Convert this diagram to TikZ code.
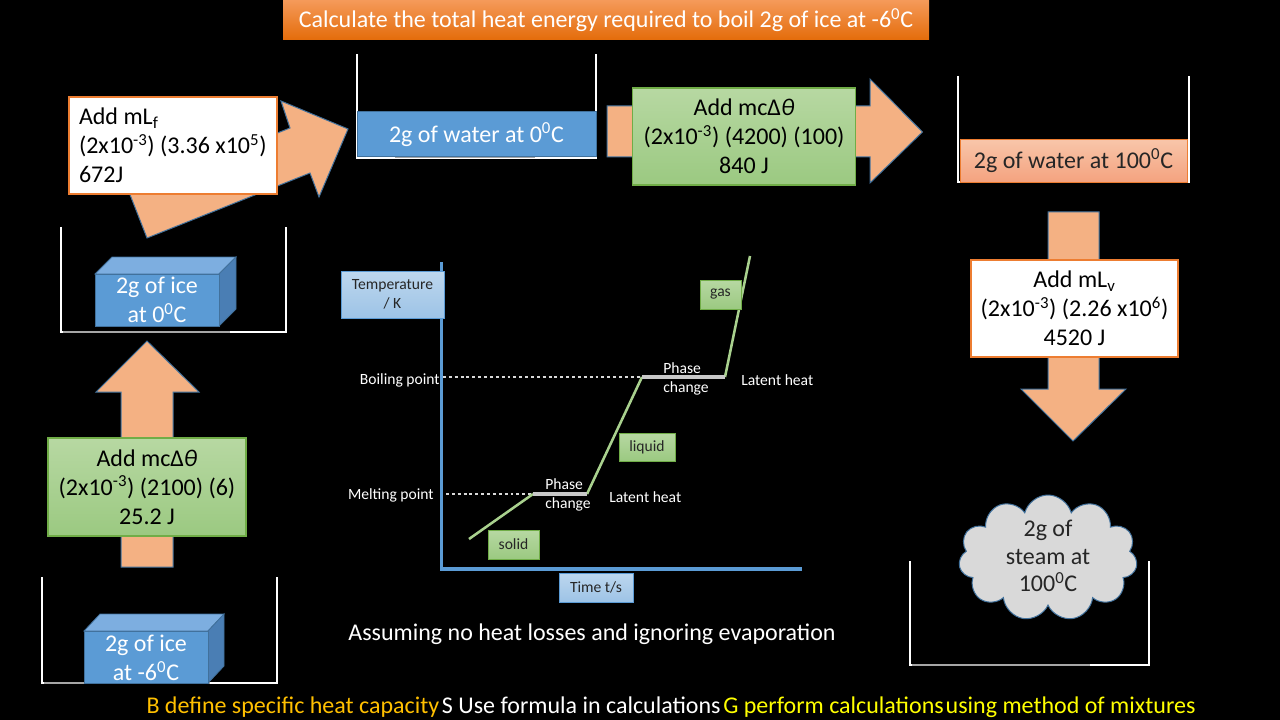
\documentclass[tikz,border=0pt]{standalone}
\usepackage{fontspec}
\setmainfont{Carlito}
\usetikzlibrary{shapes.symbols}
\definecolor{arrowfill}{HTML}{F4B183}
\definecolor{arrowedge}{HTML}{41719C}
\definecolor{boxorange}{HTML}{ED7D31}
\definecolor{greentop}{HTML}{B7D8A2}
\definecolor{greenbot}{HTML}{9BC981}
\definecolor{greenedge}{HTML}{70AD47}
\definecolor{bluefill}{HTML}{5B9BD5}
\definecolor{blueedge}{HTML}{41719C}
\definecolor{bluetopf}{HTML}{7DAEE0}
\definecolor{bluesidef}{HTML}{4A7EB4}
\definecolor{lbtop}{HTML}{BDD7EE}
\definecolor{lbbot}{HTML}{9DC3E6}
\definecolor{salmtop}{HTML}{F8C6AA}
\definecolor{salmbot}{HTML}{F4A27E}
\definecolor{titletop}{HTML}{F59A5A}
\definecolor{titlebot}{HTML}{E46C0A}
\definecolor{curvegreen}{HTML}{A9D18E}
\definecolor{flatgray}{HTML}{C8C8C8}
\definecolor{bgold}{HTML}{FFC000}
\definecolor{gyellow}{HTML}{FFFF00}
\newcommand\bxfont{\fontsize{18}{21.8}\selectfont}
\newcommand\smfont{\fontsize{11.7}{14.25}\selectfont}
\newcommand\bigfont{\fontsize{18}{21}\selectfont}
\newcommand\sps[1]{\textsuperscript{#1}}
\begin{document}
\begin{tikzpicture}[x=0.75pt,y=-0.75pt,
  arrowshape/.style={fill=arrowfill, draw=arrowedge, line width=0.75pt, line join=miter},
  whitebox/.style={draw=boxorange, fill=white, line width=1pt, inner sep=0pt, font=\bxfont, text=black},
  greenbox/.style={draw=greenedge, top color=greentop, bottom color=greenbot, line width=1pt, inner sep=0pt, align=center, font=\bxfont, text=black},
  bluebar/.style={draw=blueedge, fill=bluefill, line width=0.75pt, text=white, inner sep=0pt, font=\bxfont},
  beaker/.style={draw=white, line width=0.9pt},
  beakerbase/.style={draw=gray!70, line width=1.2pt},
  lbl/.style={text=white, font=\smfont, inner sep=0pt, align=flush left},
  tagbox/.style={draw=greenedge, top color=greentop, bottom color=greenbot, line width=0.75pt, inner sep=0pt, font=\smfont, text=black!85},
  axisbox/.style={draw=bluefill, top color=lbtop, bottom color=lbbot, line width=0.75pt, inner sep=0pt, font=\smfont, text=black!85, align=center},
  cubefront/.style={fill=bluefill, draw=blueedge, line width=0.6pt},
  cubetop/.style={fill=bluetopf, draw=blueedge, line width=0.6pt},
  cubeside/.style={fill=bluesidef, draw=blueedge, line width=0.6pt},
  cubetext/.style={text=white, font=\bxfont, align=center, inner sep=0pt},
]
\useasboundingbox (0,0) rectangle (1280,720);
\fill[black] (0,0) rectangle (1280,720);

% title
\node[top color=titletop, bottom color=titlebot, minimum width=484.5pt, minimum height=30pt, inner sep=0pt, text=white, font=\bigfont] (title) at (606,20) {Calculate the total heat energy required to boil 2g of ice at -6\sps{0}C};

% ---------- left column ----------
\draw[beaker] (42,577) -- (42,683) -- (277,683) -- (277,577);
\draw[beakerbase] (44,683) -- (210,683);
\path[cubetop] (84,631) -- (100,614) -- (224,614) -- (208,631) -- cycle;
\path[cubeside] (208,631) -- (224,614) -- (224,666) -- (208,683) -- cycle;
\path[cubefront] (84,631) rectangle (208,683);
\node[cubetext] (ice6) at (146,658) {2g of ice\\at -6\sps{0}C};

\path[arrowshape] (147,341) -- (199,392) -- (173,392) -- (173,567) -- (121,567) -- (121,392) -- (96,392) -- cycle;
\node[greenbox, minimum width=148.5pt, minimum height=73.5pt] (heat1) at (147,487) {Add mcΔ\textit{θ}\\(2x10\sps{-3}) (2100) (6)\\25.2 J};

\draw[beaker] (61,227) -- (61,332) -- (286,332) -- (286,227);
\draw[beakerbase] (63,332) -- (230,332);
\path[cubetop] (95,274) -- (112,257) -- (236,257) -- (219,274) -- cycle;
\path[cubeside] (219,274) -- (236,257) -- (236,309) -- (219,326) -- cycle;
\path[cubefront] (95,274) rectangle (219,326);
\node[cubetext] (ice0) at (157,300) {2g of ice\\at 0\sps{0}C};

\path[arrowshape] (147,238) -- (310,173) -- (319,197) -- (348,129) -- (281,101) -- (290,128) -- (129,192) -- cycle;
\node[whitebox, minimum width=156pt, minimum height=72.75pt, text width=141pt, inner xsep=7.5pt, align=flush left] (melt) at (173,145.5) {Add mL\textsubscript{f}\\(2x10\sps{-3}) (3.36 x10\sps{5})\\672J};

% ---------- top row ----------
\draw[beaker] (357,54) -- (357,158) -- (596,158) -- (596,54);
\node[bluebar, minimum width=179.25pt, minimum height=33.75pt] (water0) at (476.5,134.5) {2g of water at 0\sps{0}C};
\draw[beakerbase] (395,157.5) -- (535,157.5);

\path[arrowshape] (607,106) -- (870,106) -- (870,79) -- (922.5,132) -- (870,183) -- (870,157) -- (607,157) -- cycle;
\node[greenbox, minimum width=166.9pt, minimum height=72.75pt] (heat2) at (744,136.5) {Add mcΔ\textit{θ}\\(2x10\sps{-3}) (4200) (100)\\840 J};

% ---------- right column ----------
\draw[beaker] (958,76) -- (958,182) -- (1189,182) -- (1189,76);
\node[draw=boxorange, top color=salmtop, bottom color=salmbot, line width=0.75pt, minimum width=170.25pt, minimum height=32.6pt, inner sep=0pt, font=\bxfont, text=black!85] (water100) at (1073.5,160.75) {2g of water at 100\sps{0}C};

\path[arrowshape] (1048,212) -- (1099,212) -- (1099,389) -- (1126,389) -- (1073,441) -- (1021,389) -- (1048,389) -- cycle;
\node[whitebox, minimum width=155.25pt, minimum height=72.75pt, align=center] (vap) at (1074.5,308.5) {Add mL\textsubscript{v}\\(2x10\sps{-3}) (2.26 x10\sps{6})\\4520 J};

\draw[beaker] (910,561) -- (910,665) -- (1149,665) -- (1149,561);
\draw[beakerbase] (912,665) -- (1090,665);
\node[cloud, cloud puffs=11, cloud ignores aspect, draw=arrowedge, fill=gray!30, line width=0.75pt, minimum width=134pt, minimum height=94.5pt, inner sep=0pt] (cloud) at (1048,558) {};
\node[cubetext, text=black!85, font=\fontsize{18}{20.6}\selectfont] (steam) at (1048,556) {2g of\\steam at\\100\sps{0}C};

% ---------- graph ----------
\coordinate (origin) at (441.5,569);
\coordinate (ytop) at (441.5,262);
\coordinate (xend) at (802,569);
\draw[bluefill, line width=2.4pt] (ytop) -- (origin) -- (xend);
\coordinate (c0) at (469,539);
\coordinate (c1) at (533,494);
\coordinate (c2) at (587,494);
\coordinate (c3) at (642,377);
\coordinate (c4) at (725,377);
\coordinate (c5) at (750,256);
\draw[white!85!black, line width=2.2pt, dash pattern=on 2.2pt off 2.2pt] (443,377) -- (c3);
\draw[white!85!black, line width=2.2pt, dash pattern=on 2.2pt off 2.2pt] (446,494) -- (c1);
\draw[curvegreen, line width=1.9pt] (c0) -- (c1);
\draw[curvegreen, line width=1.9pt] (c2) -- (c3);
\draw[curvegreen, line width=1.9pt] (c4) -- (c5);
\draw[flatgray, line width=2.3pt] (c1) -- (c2);
\draw[flatgray, line width=2.3pt] (c3) -- (c4);

\node[axisbox, minimum width=77.25pt, minimum height=35.25pt] (tempbox) at (392.5,294.5) {Temperature\\/ K};
\node[axisbox, minimum width=55.5pt, minimum height=21.75pt] (timebox) at (596,587.5) {Time t/s};
\node[tagbox, minimum width=38.25pt, minimum height=21.75pt] (solid) at (513.5,544.5) {solid};
\node[tagbox, minimum width=42pt, minimum height=21pt] (liquid) at (647,447) {liquid};
\node[tagbox, minimum width=30.75pt, minimum height=21.75pt] (gas) at (720.5,294.5) {gas};

\node[lbl, anchor=east] (bp) at (440,380) {Boiling point};
\node[lbl, anchor=east] (mp) at (434,495) {Melting point};
\node[lbl, anchor=west] (pc2) at (663,378.5) {Phase\\change};
\node[lbl, anchor=west] (pc1) at (545,494.5) {Phase\\change};
\node[lbl, anchor=west] (lh2) at (741,380) {Latent heat};
\node[lbl, anchor=west] (lh1) at (609,497) {Latent heat};

\node[text=white, font=\bigfont, inner sep=0pt] (assume) at (592,634) {Assuming no heat losses and ignoring evaporation};

\node[font=\bigfont, inner sep=0pt] (outcomes) at (671,707) {\textcolor{bgold}{B define specific heat capacity}\hspace{2pt}\textcolor{white}{S Use formula in calculations}\hspace{2pt}\textcolor{gyellow}{G perform calculations\hspace{1.5pt}using method of mixtures}};
\end{tikzpicture}
\end{document}
